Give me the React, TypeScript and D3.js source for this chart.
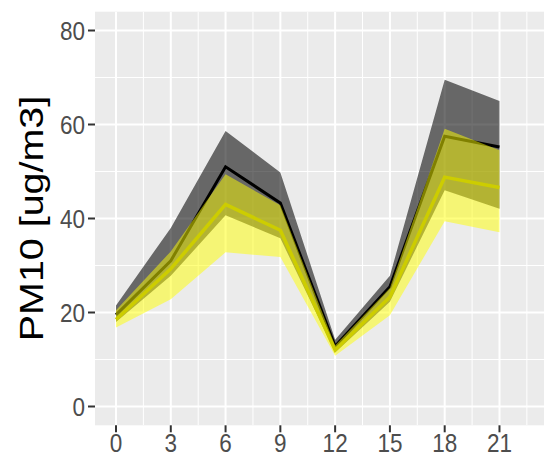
import React from "react";
import * as d3 from "d3";

// hour of day
const hours = [0, 3, 6, 9, 12, 15, 18, 21];

// dark group: ribbon bounds and mean
const darkHigh = [21.5, 38, 58.6, 49.8, 14.2, 27.8, 69.5, 65.0];
const darkMean = [19.5, 31, 51, 43.3, 12.8, 25.5, 57.5, 55.2];
const darkLow = [18, 27.8, 40.7, 35.8, 11.5, 22.3, 46, 42.1];

// yellow group: ribbon bounds and mean
const yellowHigh = [20.5, 33, 49.4, 42.8, 13, 25.2, 59.1, 54.5];
const yellowMean = [18.5, 29.3, 43, 37.5, 12, 23.3, 48.8, 46.6];
const yellowLow = [16.8, 22.8, 32.8, 31.8, 10.8, 19.4, 39.4, 37.1];

const xTicks = [0, 3, 6, 9, 12, 15, 18, 21];
const xMinor = [1.5, 4.5, 7.5, 10.5, 13.5, 16.5, 19.5, 22.5];
const yTicks = [0, 20, 40, 60, 80];
const yMinor = [10, 30, 50, 70];

const W = 544;
const H = 459;
const panel = { left: 95, top: 11.7, right: 557, bottom: 425.3 };
const font = "'Liberation Sans', Arial, sans-serif";
const stretch = 1.16; // text in the picture is a bit taller than wide

const App = () => {
  const x = d3.scaleLinear().domain([-1.15, 24.15]).range([panel.left, panel.right]);
  const y = d3.scaleLinear().domain([-4, 84]).range([panel.bottom, panel.top]);

  const band = (lo: number[], hi: number[]) =>
    d3
      .area<number>()
      .x((d) => x(d))
      .y0((d, i) => y(lo[i]))
      .y1((d, i) => y(hi[i]))(hours) as string;

  const line = (vals: number[]) =>
    d3
      .line<number>()
      .x((d) => x(d))
      .y((d, i) => y(vals[i]))(hours) as string;

  return (
    <svg
      width={W}
      height={H}
      style={{ position: "absolute", left: 0, top: 0, background: "#fff" }}
    >
      <defs>
        <clipPath id="pclip">
          <rect
            x={panel.left}
            y={panel.top}
            width={panel.right - panel.left}
            height={panel.bottom - panel.top}
          />
        </clipPath>
      </defs>
      <rect
        x={panel.left}
        y={panel.top}
        width={panel.right - panel.left}
        height={panel.bottom - panel.top}
        fill="#ebebeb"
      />
      <g clipPath="url(#pclip)">
        {yMinor.map((v) => (
          <line key={"ym" + v} x1={panel.left} x2={panel.right} y1={y(v)} y2={y(v)} stroke="#fff" strokeWidth={1} />
        ))}
        {xMinor.map((v) => (
          <line key={"xm" + v} x1={x(v)} x2={x(v)} y1={panel.top} y2={panel.bottom} stroke="#fff" strokeWidth={1} />
        ))}
        {yTicks.map((v) => (
          <line key={"yg" + v} x1={panel.left} x2={panel.right} y1={y(v)} y2={y(v)} stroke="#fff" strokeWidth={2} />
        ))}
        {xTicks.map((v) => (
          <line key={"xg" + v} x1={x(v)} x2={x(v)} y1={panel.top} y2={panel.bottom} stroke="#fff" strokeWidth={2} />
        ))}

        <path d={band(darkLow, darkHigh)} fill="#000" fillOpacity={0.56} />
        <path d={line(darkMean)} fill="none" stroke="#000" strokeWidth={3} />
        <path d={band(yellowLow, yellowHigh)} fill="#ffff00" fillOpacity={0.5} />
        <path d={line(yellowMean)} fill="none" stroke="#cdcd00" strokeWidth={3.5} />
      </g>

      {/* y axis */}
      {yTicks.map((v) => (
        <g key={"yt" + v}>
          <line x1={panel.left - 7} x2={panel.left} y1={y(v)} y2={y(v)} stroke="#333" strokeWidth={2} />
          <g transform={`translate(${panel.left - 10},${y(v)}) scale(1,${stretch})`}>
            <text dy="0.36em" textAnchor="end" fontFamily={font} fontSize={22.5} fill="#4d4d4d">
              {v}
            </text>
          </g>
        </g>
      ))}

      {/* x axis */}
      {xTicks.map((v) => (
        <g key={"xt" + v}>
          <line x1={x(v)} x2={x(v)} y1={panel.bottom} y2={panel.bottom + 7} stroke="#333" strokeWidth={2} />
          <g transform={`translate(${x(v)},${panel.bottom + 27}) scale(1,${stretch})`}>
            <text textAnchor="middle" fontFamily={font} fontSize={22.5} fill="#4d4d4d">
              {v}
            </text>
          </g>
        </g>
      ))}

      <g transform={`translate(31,${(panel.top + panel.bottom) / 2}) rotate(-90) scale(${stretch},1)`}>
        <text textAnchor="middle" dy="0.35em" fontFamily={font} fontSize={34} fill="#000">
          PM10 [ug/m3]
        </text>
      </g>
    </svg>
  );
};

export default App;
